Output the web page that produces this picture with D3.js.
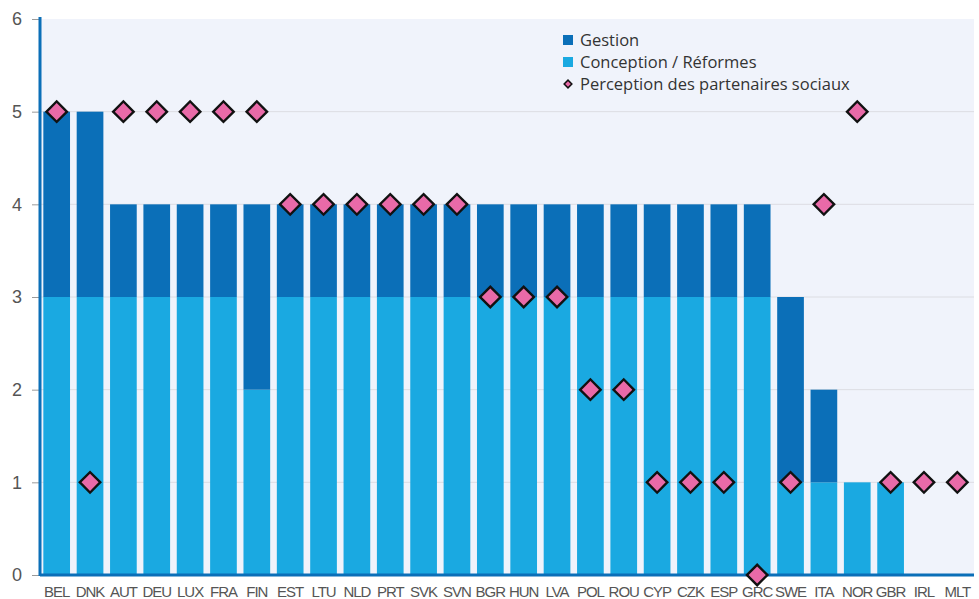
<!DOCTYPE html>
<html>
<head>
<meta charset="utf-8">
<script src="https://cdn.jsdelivr.net/npm/d3@7"></script>
<style>
  body { margin: 0; background: #fff; }
  svg { display: block; font-family: "Open Sans", sans-serif; }
</style>
</head>
<body>
<div id="chart"></div>
<script>
// Data.
const countries = ["BEL", "DNK", "AUT", "DEU", "LUX", "FRA", "FIN", "EST", "LTU", "NLD",
    "PRT", "SVK", "SVN", "BGR", "HUN", "LVA", "POL", "ROU", "CYP", "CZK",
    "ESP", "GRC", "SWE", "ITA", "NOR", "GBR", "IRL", "MLT"];
const conception = [3, 3, 3, 3, 3, 3, 2, 3, 3, 3, 3, 3, 3, 3, 3, 3, 3, 3, 3, 3, 3, 3, 1, 1, 1, 1, 0, 0];
const gestion    = [2, 2, 1, 1, 1, 1, 2, 1, 1, 1, 1, 1, 1, 1, 1, 1, 1, 1, 1, 1, 1, 1, 2, 1, 0, 0, 0, 0];
const perception = [5, 1, 5, 5, 5, 5, 5, 4, 4, 4, 4, 4, 4, 3, 3, 3, 2, 2, 1, 1, 1, 0, 1, 4, 5, 1, 1, 1];
const yTicks = [0, 1, 2, 3, 4, 5, 6];

const width = 979,
      height = 599,
      margin = {top: 19, right: 5, bottom: 24, left: 40};

const darkBlue = "#0b6fb8",
      lightBlue = "#1aa9e1",
      pink = "#e96aa8";

const svg = d3.select("#chart").append("svg")
    .attr("width", width)
    .attr("height", height);

const x = d3.scaleBand(countries, [margin.left, width - margin.right])
    .paddingInner(0.2)
    .paddingOuter(0.1);
const y = d3.scaleLinear([0, 6], [height - margin.bottom, margin.top]);

// Plot background.
svg.append("rect")
    .attr("x", margin.left)
    .attr("y", margin.top)
    .attr("width", width - margin.left - margin.right)
    .attr("height", height - margin.top - margin.bottom)
    .attr("fill", "#f0f3fb");

// Gridlines.
svg.append("g")
    .selectAll("line")
    .data(yTicks.slice(1, -1))
    .join("line")
        .attr("x1", margin.left)
        .attr("x2", width - margin.right)
        .attr("y1", d => y(d))
        .attr("y2", d => y(d))
        .attr("stroke", "#dcdde2")
        .attr("stroke-width", 1);

// Stacked bars.
const rows = countries.map((c, i) => ({country: c, conception: conception[i], gestion: gestion[i]}));
const stack = d3.stack().keys(["conception", "gestion"])(rows);
const colors = {conception: lightBlue, gestion: darkBlue};

svg.append("g")
    .selectAll("g")
    .data(stack)
    .join("g")
        .attr("fill", s => colors[s.key])
    .selectAll("rect")
    .data(s => s)
    .join("rect")
        .attr("x", d => x(d.data.country))
        .attr("y", d => y(d[1]))
        .attr("width", x.bandwidth())
        .attr("height", d => y(d[0]) - y(d[1]));

// Y axis.
const yAxis = svg.append("g")
    .attr("transform", `translate(${margin.left},0)`)
    .call(d3.axisLeft(y).tickValues(yTicks).tickSize(8).tickPadding(10).tickFormat(d3.format("d")));
yAxis.select(".domain").remove();
yAxis.selectAll(".tick line").attr("stroke", "#9a9a9a");
yAxis.selectAll(".tick text")
    .attr("fill", "#555")
    .attr("font-size", 18);
svg.append("line")
    .attr("x1", margin.left)
    .attr("x2", margin.left)
    .attr("y1", margin.top - 2)
    .attr("y2", y(0) + 1)
    .attr("stroke", darkBlue)
    .attr("stroke-width", 3);

// X axis.
const xAxis = svg.append("g")
    .attr("transform", `translate(0,${y(0)})`)
    .call(d3.axisBottom(x).tickSize(0).tickPadding(11));
xAxis.select(".domain").remove();
xAxis.selectAll(".tick text")
    .attr("fill", "#555")
    .attr("font-size", 15)
    .attr("letter-spacing", "-1");
svg.append("line")
    .attr("x1", margin.left)
    .attr("x2", width - margin.right)
    .attr("y1", y(0))
    .attr("y2", y(0))
    .attr("stroke", darkBlue)
    .attr("stroke-width", 3);

// Diamonds.
const diamond = d3.symbol().type(d3.symbolSquare).size(210);
svg.append("g")
    .selectAll("path")
    .data(perception)
    .join("path")
        .attr("d", diamond)
        .attr("transform", (d, i) => `translate(${x(countries[i]) + x.bandwidth() / 2},${y(d)}) rotate(45)`)
        .attr("fill", pink)
        .attr("stroke", "#111")
        .attr("stroke-width", 2.4);

// Legend.
const legend = svg.append("g").attr("transform", "translate(563,40)");
const items = [
    {label: "Gestion", type: "rect", color: darkBlue},
    {label: "Conception / Réformes", type: "rect", color: lightBlue},
    {label: "Perception des partenaires sociaux", type: "diamond", color: pink}
];
const li = legend.selectAll("g")
    .data(items)
    .join("g")
        .attr("transform", (d, i) => `translate(0,${i * 22})`);
li.filter(d => d.type == "rect").append("rect")
    .attr("x", 0)
    .attr("y", -5)
    .attr("width", 10)
    .attr("height", 10)
    .attr("fill", d => d.color);
li.filter(d => d.type == "diamond").append("path")
    .attr("d", d3.symbol().type(d3.symbolSquare).size(30))
    .attr("transform", "translate(5,0) rotate(45)")
    .attr("fill", d => d.color)
    .attr("stroke", "#111")
    .attr("stroke-width", 1.5);
li.append("text")
    .attr("x", 17)
    .attr("dy", "0.35em")
    .attr("fill", "#333")
    .attr("font-size", 16.5)
    .text(d => d.label);
</script>
</body>
</html>
